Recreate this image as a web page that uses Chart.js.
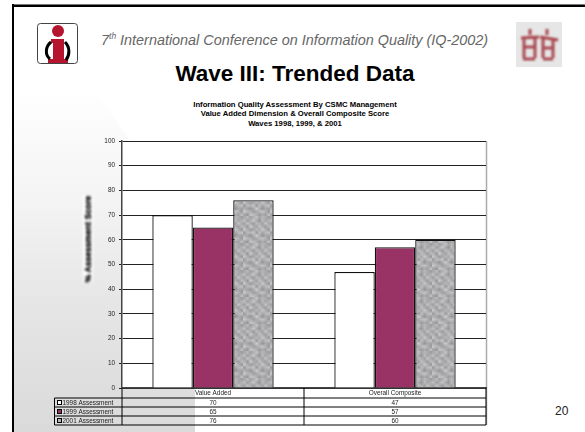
<!DOCTYPE html>
<html>
<head>
<meta charset="utf-8">
<title>Wave III: Trended Data</title>
<script src="https://cdn.jsdelivr.net/npm/chart.js@4"></script>
<style>
    html, body { margin: 0; padding: 0; background: #fff; }
    #slide { position: relative; width: 585px; height: 432px; overflow: hidden; font-family: "Liberation Sans", Arial, sans-serif; }
    #slide > * { position: absolute; }
    #frameTop { left: 12px; top: 4px; width: 573px; height: 2px; background: #000; border-top: 1px solid #777; }
    #frameLeft { left: 12px; top: 4px; width: 2px; height: 428px; background: #000; }
    #shade { left: 14px; top: 87px; width: 181px; height: 345px;
        clip-path: polygon(0 0, 72px 0, 88px 14px, 102px 33px, 112px 48px, 181px 165px, 181px 345px, 0 345px);
        background: linear-gradient(to bottom, #fff 0%, #f4f4f4 32%, #e6e6e6 62%, #dadada 100%); }
    #conf { left: 101px; top: 32px; width: 390px; font-size: 14.4px; font-style: italic; color: #666; white-space: nowrap; }
    #conf sup { font-size: 8.5px; line-height: 0; }
    #heading { left: 0; top: 61px; width: 590px; text-align: center; font-size: 22.5px; font-weight: bold; color: #000; }
    #chartTitle { left: 0; top: 100px; width: 590px; text-align: center; font-size: 7.7px; font-weight: bold; line-height: 9.4px; color: #000; }
    #axisName { left: 88px; top: 239px; transform: translate(-50%, -50%) rotate(-90deg); font-size: 8.6px; line-height: 10px; font-weight: bold;
        color: #000; background: #fff; white-space: nowrap; text-shadow: 0 0 1px #000; filter: blur(0.8px); }
    #pageNo { left: 555px; top: 404px; font-size: 12px; color: #222; }
    canvas { left: 0; top: 0; }
</style>
</head>
<body>
<div id="slide">
    <div id="shade"></div>
    <div id="frameTop"></div>
    <div id="frameLeft"></div>
    <svg style="left:37px;top:23px" width="42" height="42" viewBox="0 0 42 42">
        <rect x="0.5" y="0.5" width="40" height="40" rx="3" fill="#fff" stroke="#444"/>
        <circle cx="21" cy="8" r="6" fill="#b5152f"/>
        <path d="M14 16H27V36H31V40H11V36H16V20H14Z" fill="#b5152f"/>
        <path d="M14 19C8 24 8 32 13 36M28 19C33 24 33 32 29 37" fill="none" stroke="#000" stroke-width="3"/>
    </svg>
    <div id="conf">7<sup>th</sup> International Conference on Information Quality (IQ-2002)</div>
    <div id="heading">Wave III: Trended Data</div>
    <div id="chartTitle"></div>
    <svg style="left:516px;top:22px" width="46" height="45" viewBox="0 0 46 45">
        <defs><filter id="soft"><feGaussianBlur stdDeviation="1.3"/></filter></defs>
        <rect width="46" height="45" fill="#e6e6e6"/>
        <g filter="url(#soft)" fill="none" stroke="#a8474f" stroke-width="3">
            <path d="M14 7V13M5 16L23 15M8 16V36M19 16V36M8 25H19M7 37H19"/>
            <path d="M31 7V13M24 15L42 18M27 17V36M37 18V36M27 26H37M27 37H37"/>
        </g>
    </svg>
    <div id="axisName">% Assessment Score</div>
    <div id="pageNo">20</div>
    <canvas id="wavesChart" width="585" height="432"></canvas>
</div>
<script>
// Chart data
const categories = ['Value Added', 'Overall Composite'];
const seriesNames = ['1998 Assessment', '1999 Assessment', '2001 Assessment'];
const scores1998 = [70, 47];
const scores1999 = [65, 57];
const scores2001 = [76, 60];
const titleLines = [
    'Information Quality Assessment By CSMC Management',
    'Value Added Dimension & Overall Composite Score',
    'Waves 1998, 1999, & 2001'
];

document.getElementById('chartTitle').innerHTML = titleLines.join('<br>').replace(/&(?!<)/g, '&amp;');

// Mottled grey fill for the 2001 bars
function speckleFill() {
    const tones = [
        [168, 186, 160, 176, 194, 165, 182, 172, 158],
        [190, 158, 178, 200, 170, 150, 188, 164, 180],
        [162, 196, 172, 154, 186, 178, 160, 198, 170],
        [180, 150, 204, 176, 160, 192, 174, 156, 186],
        [198, 174, 156, 166, 184, 168, 202, 176, 152],
        [156, 188, 182, 198, 152, 190, 166, 184, 194],
        [176, 164, 150, 172, 206, 174, 148, 170, 162],
        [200, 184, 178, 158, 168, 186, 196, 180, 154],
        [166, 152, 194, 188, 176, 156, 172, 160, 190]
    ];
    const small = document.createElement('canvas');
    small.width = small.height = 9;
    const sctx = small.getContext('2d');
    tones.forEach((row, y) => row.forEach((v, x) => {
        sctx.fillStyle = `rgb(${v},${v},${v + 3})`;
        sctx.fillRect(x, y, 1, 1);
    }));
    const tile = document.createElement('canvas');
    tile.width = tile.height = 27;
    const tctx = tile.getContext('2d');
    tctx.imageSmoothingEnabled = true;
    tctx.drawImage(small, 0, 0, 27, 27);
    return tctx.createPattern(tile, 'repeat');
}

// Data table under the x axis, with legend keys in the row headers
const dataTable = {
    id: 'dataTable',
    afterDraw(chart) {
        const { ctx, chartArea, scales } = chart;
        const rowH = 9;
        const headLeft = 54.5;
        const top = chartArea.bottom;
        const firstRow = top + 10;
        const datasets = chart.data.datasets;
        const bottom = firstRow + rowH * datasets.length;
        const mid = (scales.x.getPixelForValue(0) + scales.x.getPixelForValue(1)) / 2;

        ctx.save();
        ctx.strokeStyle = '#000';
        ctx.lineWidth = 1;
        ctx.beginPath();
        [chartArea.left, mid, chartArea.right].forEach(x => {
            ctx.moveTo(x, top);
            ctx.lineTo(x, bottom);
        });
        ctx.moveTo(headLeft, firstRow);
        ctx.lineTo(headLeft, bottom);
        datasets.forEach((ds, i) => {
            ctx.moveTo(headLeft, firstRow + rowH * i);
            ctx.lineTo(chartArea.right, firstRow + rowH * i);
        });
        ctx.moveTo(headLeft, bottom);
        ctx.lineTo(chartArea.right, bottom);
        ctx.stroke();

        ctx.font = '6.4px "Liberation Sans", Arial, sans-serif';
        ctx.fillStyle = '#222';
        ctx.textBaseline = 'middle';
        ctx.textAlign = 'center';
        categories.forEach((name, c) => {
            const x = scales.x.getPixelForValue(c);
            ctx.fillText(name, x, top + 5.5);
            datasets.forEach((ds, i) => {
                ctx.fillText(String(ds.data[c]), x, firstRow + rowH * i + 5);
            });
        });
        ctx.textAlign = 'left';
        datasets.forEach((ds, i) => {
            const y = firstRow + rowH * i;
            ctx.fillStyle = ds.backgroundColor;
            ctx.strokeStyle = '#000';
            ctx.fillRect(58, y + 3, 3, 3);
            ctx.strokeRect(57.5, y + 2.5, 4, 4);
            ctx.fillStyle = '#222';
            ctx.fillText(ds.label, 62.5, y + 5);
        });
        ctx.restore();
    }
};

// White plot panel and the grey right edge running down past the table
const plotBackdrop = {
    id: 'plotBackdrop',
    beforeDraw(chart) {
        const { ctx, chartArea: a } = chart;
        ctx.save();
        ctx.fillStyle = '#fff';
        ctx.fillRect(a.left, a.top, a.width, a.height);
        ctx.strokeStyle = '#aaa';
        ctx.lineWidth = 1.5;
        ctx.beginPath();
        ctx.moveTo(a.right + 0.5, a.top);
        ctx.lineTo(a.right + 0.5, a.bottom + 37);
        ctx.stroke();
        ctx.restore();
    }
};

function initChart() {
    const ctx = document.getElementById('wavesChart').getContext('2d');
    const seriesStyle = { borderColor: '#111', borderWidth: 1.3, categoryPercentage: 2 / 3, barPercentage: 1 };
    new Chart(ctx, {
        type: 'bar',
        data: {
            labels: categories,
            datasets: [
                { label: seriesNames[0], data: scores1998, backgroundColor: '#ffffff', ...seriesStyle },
                { label: seriesNames[1], data: scores1999, backgroundColor: '#993366', ...seriesStyle },
                { label: seriesNames[2], data: scores2001, backgroundColor: speckleFill(), ...seriesStyle }
            ]
        },
        options: {
            responsive: false,
            animation: false,
            layout: { padding: { top: 141, right: 99, bottom: 44 } },
            plugins: {
                legend: { display: false },
                tooltip: { enabled: false }
            },
            scales: {
                x: {
                    afterFit: scale => { scale.height = 0; },
                    border: { color: '#444', width: 1.5 },
                    grid: { display: false },
                    ticks: { display: false }
                },
                y: {
                    min: 0,
                    max: 100,
                    afterFit: scale => { scale.width = 122; },
                    border: { color: '#444', width: 1.5 },
                    grid: { color: '#222', lineWidth: 1, tickLength: 3 },
                    ticks: {
                        stepSize: 10,
                        padding: 4,
                        color: '#222',
                        font: { family: '"Liberation Sans", Arial, sans-serif', size: 6.4 }
                    }
                }
            }
        },
        plugins: [plotBackdrop, dataTable]
    });
}

// Initialize on load
initChart();
</script>
</body>
</html>
